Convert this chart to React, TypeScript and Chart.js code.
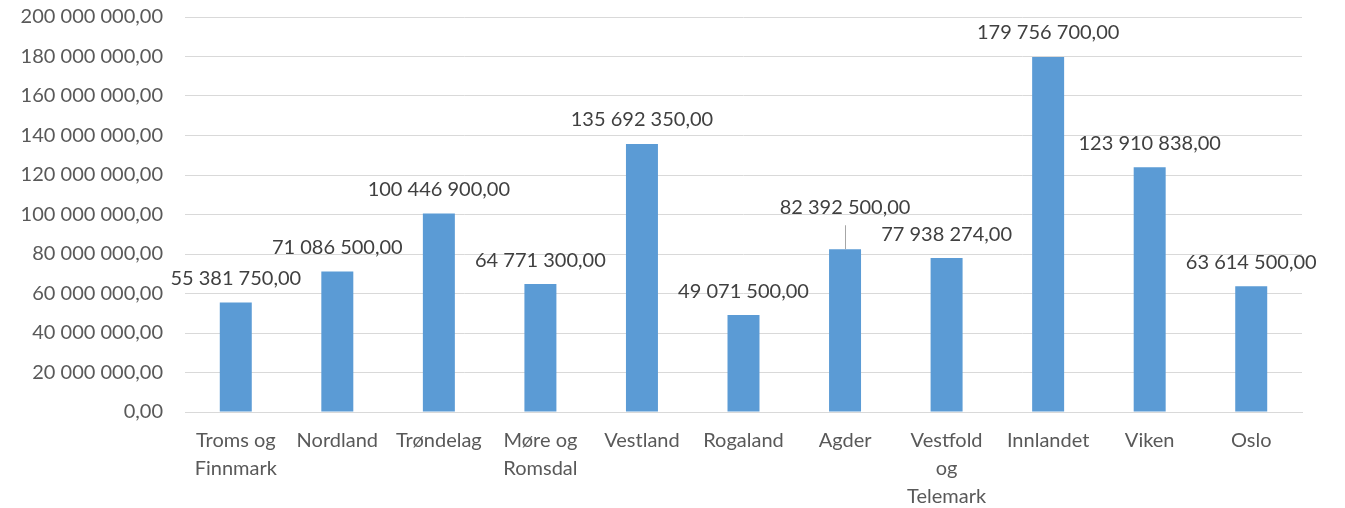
import React, { useEffect, useRef } from "react";
import { Chart, registerables } from "chart.js";

Chart.register(...registerables);

const categories: (string | string[])[] = [
  ["Troms og", "Finnmark"],
  "Nordland",
  "Trøndelag",
  ["Møre og", "Romsdal"],
  "Vestland",
  "Rogaland",
  "Agder",
  ["Vestfold", "og", "Telemark"],
  "Innlandet",
  "Viken",
  "Oslo",
];

const values: number[] = [
  55381750, 71086500, 100446900, 64771300, 135692350, 49071500, 82392500,
  77938274, 179756700, 123910838, 63614500,
];

const yMin = 0;
const yMax = 200000000;
const yStep = 20000000;

const FONT = "Lato, 'Liberation Sans', sans-serif";
const FS = 20;

function fmt(v: number): string {
  const neg = v < 0;
  const abs = Math.abs(v);
  const intPart = Math.floor(abs).toString().replace(/\B(?=(\d{3})+(?!\d))/g, " ");
  const dec = Math.round((abs - Math.floor(abs)) * 100)
    .toString()
    .padStart(2, "0");
  return (neg ? "-" : "") + intPart + "," + dec;
}

const labelPlugin = {
  id: "barLabels",
  afterDatasetsDraw(chart: any) {
    const ctx = chart.ctx;
    const meta = chart.getDatasetMeta(0);
    const extra: Record<number, number> = { 6: 18 };
    ctx.save();
    ctx.font = FS + "px " + FONT;
    ctx.fillStyle = "#404040";
    ctx.textAlign = "center";
    ctx.textBaseline = "middle";
    meta.data.forEach((bar: any, i: number) => {
      const off = 24 + (extra[i] || 0);
      const y = bar.y - off;
      if (extra[i]) {
        ctx.strokeStyle = "#a6a6a6";
        ctx.lineWidth = 1;
        ctx.beginPath();
        ctx.moveTo(Math.round(bar.x) + 0.5, y + 18);
        ctx.lineTo(Math.round(bar.x) + 0.5, bar.y);
        ctx.stroke();
      }
      ctx.fillText(fmt(values[i]), bar.x, y);
    });
    ctx.restore();
  },
};

export default function App() {
  const ref = useRef<HTMLCanvasElement | null>(null);
  useEffect(() => {
    document.body.style.margin = "0";
    const chart = new Chart(ref.current as HTMLCanvasElement, {
      type: "bar",
      data: {
        labels: categories,
        datasets: [
          {
            data: values,
            backgroundColor: "#5b9bd5",
            borderWidth: 0,
            barPercentage: 0.315,
            categoryPercentage: 1,
          },
        ],
      },
      options: {
        animation: false,
        responsive: false,
        maintainAspectRatio: false,
        layout: { padding: { top: 17, right: 43, bottom: 0, left: 0 } },
        plugins: {
          legend: { display: false },
          tooltip: { enabled: false },
        },
        scales: {
          x: {
            grid: { display: false, drawTicks: false },
            border: { display: true, color: "#d9d9d9", width: 1 },
            afterFit: (s: any) => {
              s.height = 96;
            },
            ticks: {
              color: "#595959",
              font: { family: FONT, size: FS, lineHeight: 1.4 },
              padding: 15,
              maxRotation: 0,
              autoSkip: false,
            },
          },
          y: {
            min: yMin,
            max: yMax,
            grid: { color: "#d9d9d9", lineWidth: 1, drawTicks: false },
            border: { display: false },
            afterFit: (s: any) => {
              s.width = 185;
              s.paddingTop = 0;
              s.paddingBottom = 0;
            },
            ticks: {
              stepSize: yStep,
              color: "#595959",
              font: { family: FONT, size: FS },
              padding: 22,
              callback: (v: any) => fmt(Number(v)),
            },
          },
        },
      },
      plugins: [labelPlugin],
    });
    return () => chart.destroy();
  }, []);
  return (
    <div style={{ position: "absolute", left: 0, top: 0, width: 1345, height: 508 }}>
      <canvas ref={ref} width={1345} height={508} />
    </div>
  );
}
